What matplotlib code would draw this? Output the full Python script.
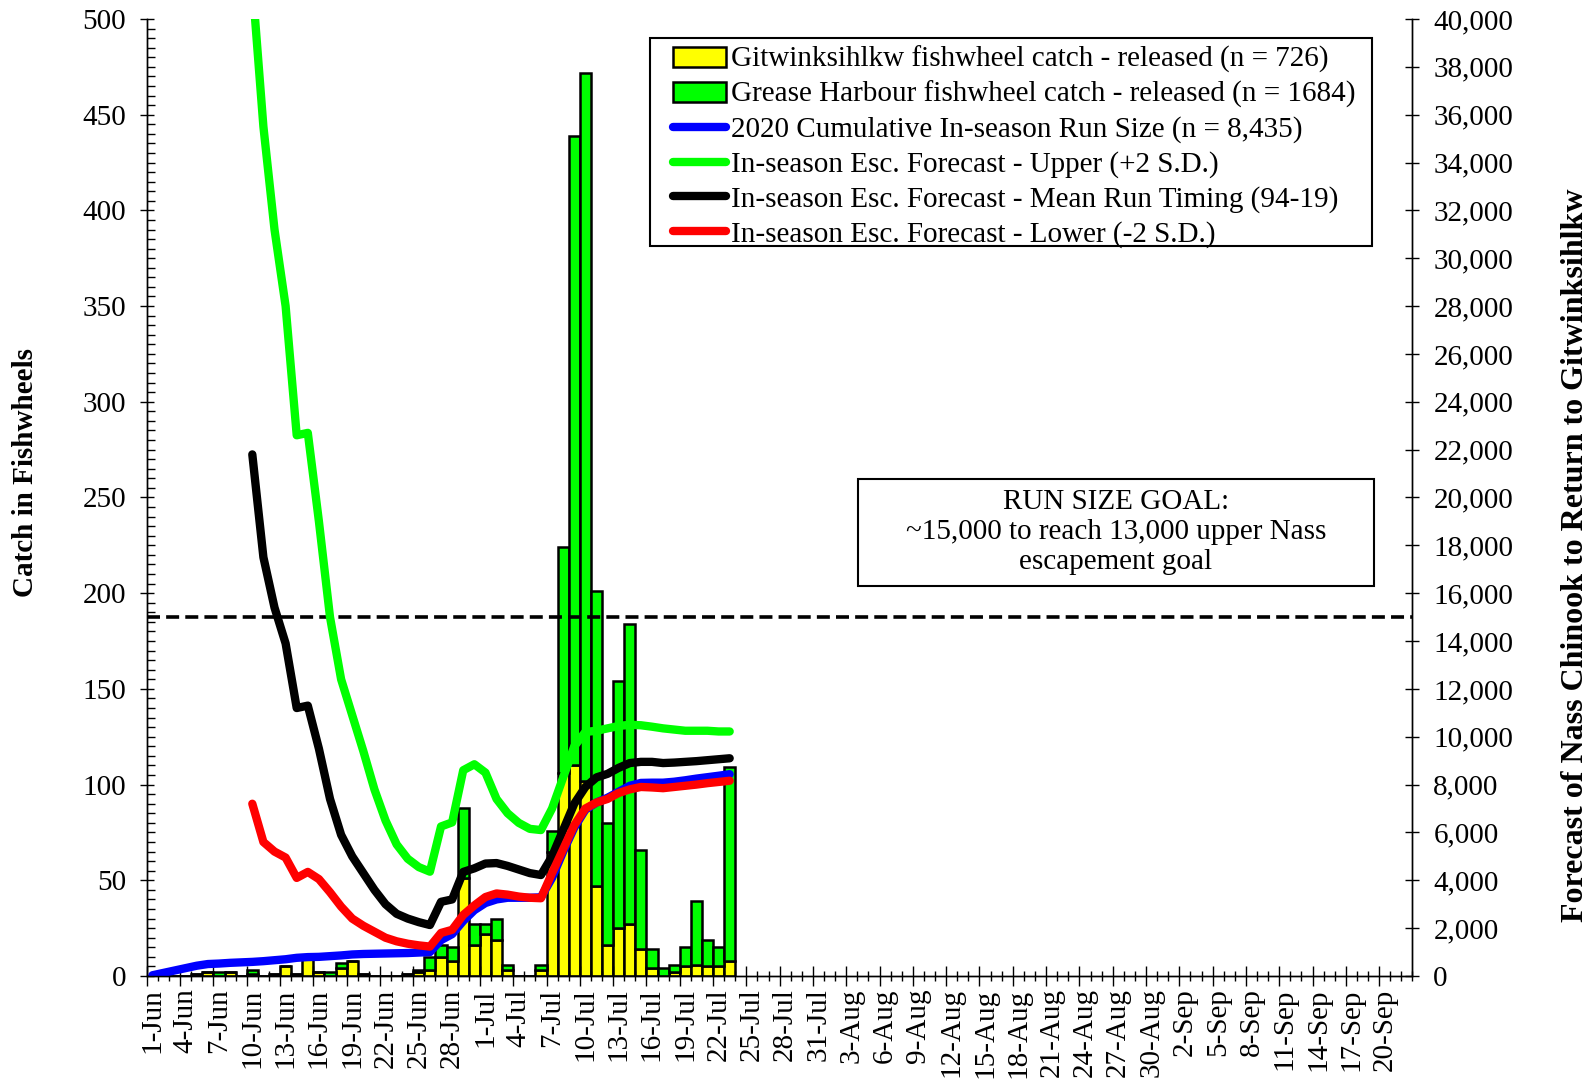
import numpy as np
import pandas as pd
import matplotlib
matplotlib.use("Agg")
import matplotlib.pyplot as plt
from matplotlib.patches import Patch, Rectangle
from matplotlib.lines import Line2D
from matplotlib.ticker import MultipleLocator, FuncFormatter
from matplotlib.transforms import ScaledTranslation

plt.rcParams['font.family'] = ['Liberation Serif', 'DejaVu Serif']

# x axis: one slot per day, 1-Jun .. 22-Sep
days = pd.date_range('2020-06-01', '2020-09-22')
day_labels = [f"{d.day}-{d.strftime('%b')}" for d in days]

# daily fishwheel catch (released), 1-Jun .. 23-Jul
gitw_catch = [0, 0, 0, 0, 1, 2, 0, 2, 0, 1,
              0, 1, 5, 1, 10, 2, 0, 4, 8, 1,
              0, 0, 0, 1, 2, 3, 10, 8, 51, 16,
              22, 19, 3, 0, 0, 3, 65, 106, 110, 102,
              47, 16, 25, 27, 14, 4, 0, 2, 5, 6,
              5, 5, 8]
grease_catch = [0, 0, 0, 0, 0, 0, 2, 0, 0, 2,
                0, 0, 0, 0, 1, 0, 2, 3, 0, 0,
                0, 0, 0, 0, 1, 7, 6, 7, 37, 11,
                5, 11, 3, 0, 0, 3, 11, 118, 329, 370,
                154, 64, 129, 157, 52, 10, 4, 4, 10, 33,
                14, 10, 101]

# cumulative run size, 1-Jun .. 23-Jul
cum_run = [30, 130, 230, 330, 430, 500, 520, 550, 570, 590,
           620, 660, 700, 760, 790, 800, 830, 860, 900, 920,
           930, 940, 950, 960, 980, 1000, 1500, 1750, 2300, 2750,
           3050, 3200, 3270, 3270, 3270, 3290, 4100, 5200, 6200, 6950,
           7250, 7450, 7700, 7950, 8070, 8080, 8080, 8120, 8180, 8250,
           8310, 8370, 8435]

# in-season escapement forecasts, 10-Jun .. 23-Jul
fc_start = 9
esc_upper = [41500, 35500, 31200, 28000, 22600, 22700, 19000, 15000, 12400, 10900,
             9400, 7800, 6500, 5500, 4900, 4550, 4360, 6250, 6420, 8600,
             8850, 8500, 7400, 6800, 6400, 6150, 6100, 7000, 8300, 9600,
             10200, 10250, 10350, 10450, 10500, 10480, 10420, 10350, 10300, 10250,
             10250, 10250, 10220, 10220]
esc_mean = [21800, 17500, 15400, 13900, 11200, 11300, 9500, 7400, 5900, 5000,
            4300, 3600, 3000, 2600, 2400, 2250, 2130, 3100, 3200, 4350,
            4500, 4700, 4720, 4600, 4450, 4300, 4220, 5000, 6100, 7200,
            7900, 8300, 8450, 8700, 8900, 8950, 8950, 8900, 8920, 8950,
            8980, 9020, 9060, 9100]
esc_lower = [7200, 5600, 5200, 4950, 4100, 4350, 4050, 3500, 2900, 2400,
             2100, 1850, 1600, 1450, 1350, 1280, 1230, 1800, 1930, 2550,
             2950, 3300, 3450, 3400, 3320, 3270, 3250, 4300, 5300, 6300,
             7000, 7250, 7400, 7650, 7800, 7900, 7880, 7850, 7900, 7950,
             8000, 8060, 8110, 8160]

run_goal = 15000

fig, ax = plt.subplots(figsize=(15.96, 10.83), dpi=100)
fig.subplots_adjust(left=0.092, right=0.885, top=0.9825, bottom=0.0988)

# stacked bars, one day wide, centred in the day slot
xb = np.arange(len(gitw_catch)) + 0.5
ax.bar(xb, gitw_catch, width=1.0, color='#ffff00', edgecolor='black', linewidth=1.8)
ax.bar(xb, grease_catch, width=1.0, bottom=gitw_catch, color='#00ff00',
       edgecolor='black', linewidth=1.8)

ax.set_xlim(0, len(days))
ax.set_ylim(0, 500)
ax.yaxis.set_major_locator(MultipleLocator(50))
ax.yaxis.set_minor_locator(MultipleLocator(5))
ax.tick_params(axis='y', which='major', direction='inout', length=10, width=1,
               labelsize=21, pad=10)
ax.tick_params(axis='y', which='minor', direction='in', length=6, width=1)

ax.set_xticks(np.arange(0, len(days) - 2, 3))
ax.set_xticklabels(day_labels[0:len(days) - 2:3], rotation=90)
ax.set_xticks(np.arange(0, len(days) + 1), minor=True)
ax.tick_params(axis='x', which='major', direction='inout', length=14, width=1, labelsize=21, pad=2)
ax.tick_params(axis='x', which='minor', direction='inout', length=7, width=1)
# labels sit in the middle of the day slot
shift = ScaledTranslation(5.5 / 100, 0, fig.dpi_scale_trans)
for lab in ax.get_xticklabels():
    lab.set_transform(lab.get_transform() + shift)

ax.set_ylabel('Catch in Fishwheels', fontsize=21, fontweight='bold', va='center')
ax.yaxis.set_label_coords(-0.096, 0.526)

# forecast lines on the right axis
ax2 = ax.twinx()
xl = np.arange(len(cum_run)) + 0.5
xf = np.arange(fc_start, fc_start + len(esc_upper)) + 0.5
lw = 6
ax2.axhline(run_goal, color='black', lw=2.6, dashes=(3.6, 1.7))
ax2.plot(xl, cum_run, color='#0000ff', lw=lw, solid_capstyle='round', solid_joinstyle='round')
ax2.plot(xf, esc_upper, color='#00ff00', lw=lw, solid_capstyle='round', solid_joinstyle='round')
ax2.plot(xf, esc_mean, color='black', lw=lw, solid_capstyle='round', solid_joinstyle='round')
ax2.plot(xf, esc_lower, color='#ff0000', lw=lw, solid_capstyle='round', solid_joinstyle='round')
ax2.set_ylim(0, 40000)
ax2.yaxis.set_major_locator(MultipleLocator(2000))
ax2.yaxis.set_major_formatter(FuncFormatter(lambda v, p: f"{int(v):,}"))
ax2.tick_params(axis='y', which='major', direction='inout', length=10, width=1,
                labelsize=21, pad=10)
ax2.set_ylabel('Forecast of Nass Chinook to Return to Gitwinksihlkw', fontsize=23,
               fontweight='bold', va='center')
ax2.yaxis.set_label_coords(1.129, 0.44)

for a in (ax, ax2):
    a.spines['top'].set_visible(False)
    for s in ('left', 'right', 'bottom'):
        a.spines[s].set_linewidth(1)

handles = [Patch(facecolor='#ffff00', edgecolor='black', linewidth=1.8),
           Patch(facecolor='#00ff00', edgecolor='black', linewidth=1.8),
           Line2D([], [], color='#0000ff', lw=lw, solid_capstyle='round'),
           Line2D([], [], color='#00ff00', lw=lw, solid_capstyle='round'),
           Line2D([], [], color='black', lw=lw, solid_capstyle='round'),
           Line2D([], [], color='#ff0000', lw=lw, solid_capstyle='round')]
labels = ['Gitwinksihlkw fishwheel catch - released (n = 726)',
          'Grease Harbour fishwheel catch - released (n = 1684)',
          '2020 Cumulative In-season Run Size (n = 8,435)',
          'In-season Esc. Forecast - Upper (+2 S.D.)',
          'In-season Esc. Forecast - Mean Run Timing (94-19)',
          'In-season Esc. Forecast - Lower (-2 S.D.)']
# legend entries without frame; the box is drawn separately
leg_box = Rectangle((650 / 1596, 1 - 246 / 1083), 722 / 1596, 208 / 1083,
                    transform=fig.transFigure, facecolor='white', edgecolor='black', lw=1.5,
                    zorder=4)
ax2.add_artist(leg_box)
leg = ax2.legend(handles, labels, loc='upper left', bbox_to_anchor=(673 / 1596, 1 - 46 / 1083),
                 bbox_transform=fig.transFigure, fontsize=21, frameon=False,
                 handlelength=1.8, handletextpad=0.2, labelspacing=0.27,
                 borderpad=0, borderaxespad=0)
leg.set_zorder(5)

# run size goal box
fig.patches.append(Rectangle((858 / 1596, 1 - 586 / 1083), 516 / 1596, 107 / 1083,
                             transform=fig.transFigure, fill=False, edgecolor='black', lw=1.5))
fig.text(1116 / 1596, 1 - 532 / 1083,
         'RUN SIZE GOAL:\n~15,000 to reach 13,000 upper Nass\nescapement goal',
         ha='center', va='center', fontsize=21)

fig.savefig('out.png', dpi=100)
